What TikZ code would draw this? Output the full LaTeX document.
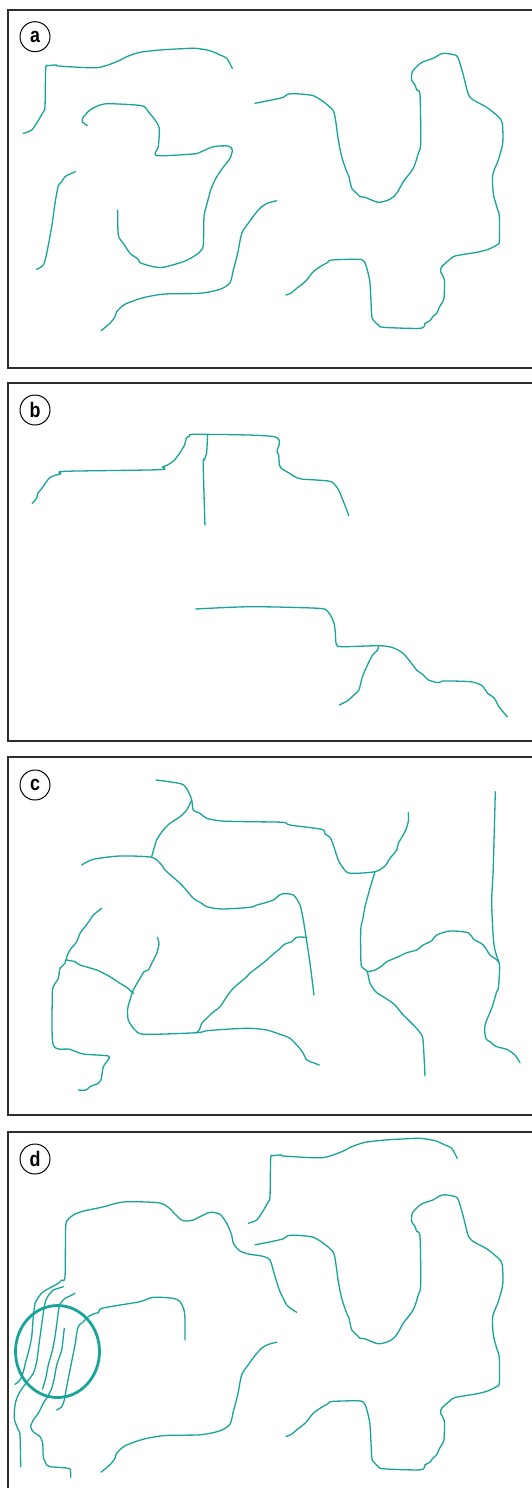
\documentclass[tikz,border=0pt]{standalone}
\usepackage{fontspec}
\newfontfamily\lblfont[FakeStretch=0.85]{Liberation Sans}
\definecolor{crackteal}{RGB}{24,164,152}
\definecolor{framegray}{RGB}{45,45,45}
\tikzset{
  crack/.style={draw=crackteal, line width=0.65pt, line cap=round, line join=round},
  panelframe/.style={draw=framegray, line width=1.1pt},
  tag/.style={circle, draw=black, line width=0.5pt, minimum size=15pt, inner sep=0pt,
              font=\lblfont\bfseries\fontsize{10.5}{12}\selectfont},
  zone/.style={draw=crackteal, line width=1.4pt}
}
\newcommand{\sm}{plot[smooth,tension=0.45] coordinates}
\newcommand{\curveAone}{\sm{(23.3,133.3) (31.7,130) (38,121) (43.3,111.7) (45,106.7) (45.7,68.3) (47.7,65.7) (56.7,65) (58.3,66) (96.7,67.7) (116.7,61.7) (126.7,56.7) (140,52.3) (160,50) (176.7,49) (195,48.3) (210,50.7) (220,55) (226.7,58.3) (232.3,68.3)}}
\newcommand{\curveAfour}{\sm{(101,330.7) (110,323.3) (115,316.7) (116.7,311.7) (125,304.3) (143.3,297.7) (165,294) (200,293.3) (220,289.3) (230,282.7) (233.3,270) (237.7,253.3) (241.7,233.3) (248.3,223.3) (255,214) (261.7,206.7) (268,203) (276.7,200.7)}}
\newcommand{\curveAfive}{\sm{(255,103.3) (271.7,100) (283.3,97.3) (288.3,94) (300,94) (313.3,95.7) (323.3,101.7) (333.3,110.7) (336,123.3) (338.3,140) (341.7,156.7) (346.7,171.7) (349,176.7) (351.7,188.3) (356.7,193.3) (360,196.7) (365,197.3) (378.3,202.3) (390,199.3) (396.7,193.3) (403.3,181.7) (413.3,168.3) (418.3,153.3) (420.7,143.3) (420,95) (416.7,90) (415,85) (411.7,80) (412.3,71.7) (418.3,65) (423.3,61.7) (433.3,58.3) (440,54.3) (445,53.3) (455,55) (458.3,58.3) (463.3,75) (468.3,94.3) (473.3,100) (486.7,107.3) (498.3,116.7) (502.3,123.3) (502.7,143.3) (498.3,160) (492.7,175) (493.3,193.3) (496.7,206.7) (499.3,216) (499.3,241.7) (496.7,245) (488.3,249.3) (476.7,252.3) (455,256) (450,259.3) (441.7,266.7) (440.7,271.7) (444.3,279.3) (444,298.3) (441.7,303.3) (439.3,307.3) (436.7,313.3) (432.7,316.7) (430,320.7) (425,323.3) (420.7,328.3) (383.3,327.3) (378.3,325) (373.3,320) (371.7,315) (370,283.3) (367.3,270) (364.3,261.7) (358.3,259.3) (331.7,260) (327.3,262.7) (321.7,265.7) (313.3,271.7) (306.7,280) (303.3,283.3) (296.7,288.3) (291.7,292.7) (286,295)}}
\begin{document}
\begin{tikzpicture}[x=0.5pt,y=-0.5pt]
\useasboundingbox (0,0) rectangle (531,1488);
\fill[white] (0,0) rectangle (531,1488);
% frames
\draw[panelframe] (8,10) rectangle (545,368);
\draw[panelframe] (8,383) rectangle (545,741);
\draw[panelframe] (8,757) rectangle (545,1115);
\draw[panelframe] (8,1132) rectangle (545,1510);
% labels
\node[tag] (la) at (35,36.7) {a};
\node[tag] (lb) at (35,410) {b};
\node[tag] (lc) at (35,785) {c};
\node[tag] (ld) at (35,1159) {d};
% ---------- panel a ----------
\draw[crack] \curveAone;
\draw[crack] \sm{(87.3,125.7) (82.3,121.7) (83.3,117.3) (90,110) (100,105) (110,103.7) (141.7,105.7) (148.3,111.7) (155,120) (159.3,128.3) (158.3,146.7) (156.7,150) (157.3,155.7) (193.3,154) (200,152.3) (213.3,146.7) (228.3,146) (232.3,150) (230,158.3) (225,165) (220,171.7) (215,180) (210.7,190) (206.7,205) (204,216.7) (203.3,245) (200,251.7) (193.3,256.7) (183.3,261.7) (163.3,267.3) (153.3,266.7) (140,262.7) (138.3,259.3) (130,253.3) (123.3,243.3) (118.3,235) (117.7,210)};
\draw[crack] \sm{(75.3,171.7) (70,174) (65,176.7) (61.7,181.7) (58.3,185.7) (55,203.3) (51.7,226.7) (46.7,253.3) (43.3,265) (36.7,269.3)};
\draw[crack] \curveAfour;
\draw[crack] \curveAfive;
% ---------- panel b ----------
\begin{scope}[xscale=1.016]
\draw[crack] \sm{(31.7,503.3) (36,498.3) (37.3,493.3) (41.7,487.7) (48.3,478.3) (53.3,475.7) (60,473.7) (64,471.3) (156.7,469.7) (160,467) (165,465) (171.7,460) (176.7,453.3) (181.7,445) (183.3,438.3) (186.7,436) (193.3,434.3) (270,436.7) (272.7,451.7) (274.3,455) (275,465) (276.7,468.3) (285,473.3) (290,476.7) (296.7,479) (306.7,479.7) (323.3,481) (328.3,483.3) (333.3,490) (336.7,498.3) (340,506.7) (343.3,515.7)};
\draw[crack] \sm{(204.3,435) (203.3,453.3) (201,460) (200,463.3) (201.7,525)};
\draw[crack] \sm{(192.7,609) (246.7,606.7) (313.3,608.3) (322.7,611.7) (328.3,621.7) (330,631.7) (331,644.3) (336.7,646.7) (373.3,645.7) (386.7,647.7) (396.7,653.3) (405,663.3) (410,670) (416.7,675) (421.7,680) (431.7,682.7) (436.7,681) (463.3,681.7) (473.3,685) (476.7,688.3) (480,693.3) (486.7,698.3) (490,705) (495,711.7) (499.3,716.7)};
\draw[crack] \sm{(372.7,645.7) (371.7,650) (366.7,655) (361.7,665) (356.7,676.7) (353.3,690) (348.3,695) (345,698.3) (341.7,701) (334,705)};
\end{scope}
% ---------- panel c ----------
\draw[crack] \sm{(156,780) (181.7,784) (188.3,791.7) (191.7,800) (193.3,810) (200,813.3) (206.7,818.3) (221.7,821) (250,821.7) (283.3,822.3) (290,825) (321.7,829.3) (325,834) (330,837.3) (333.3,845) (338.3,860) (343.3,868.3) (350,873.3) (375,871.7) (385,866) (390,858.3) (396.7,850) (398.3,843.3) (405,831.7) (408.3,821.7) (408.3,812.7)};
\draw[crack] \sm{(191.7,800) (186.7,810) (180,816.7) (170,823.3) (163.3,830) (156.7,840) (151.7,856.7)};
\draw[crack] \sm{(81.7,865) (93.3,859.3) (120,856) (151.7,857.3) (161.7,865) (165,870) (181.7,885) (193.3,898.3) (201.7,903.3) (206.7,906.7) (221.7,909) (250,907.3) (256.7,905) (263.3,903.3) (273.3,900) (281.7,894) (293.3,895) (300,905) (303.3,920) (306,936.7) (310,963.3) (314,995)};
\draw[crack] \sm{(306.7,937.3) (296.7,937.3) (291.7,941.7) (285,944) (278.3,950) (273.3,954) (266.7,960) (258.3,966.7) (250,973) (246.7,976.7) (233.3,988.3) (226.7,996.7) (220,1006.7) (211.7,1013.3) (208.3,1016.7) (201.7,1023.3) (199.3,1030) (196,1032.7)};
\draw[crack] \sm{(157.3,937.3) (159,943.3) (156.7,953.3) (151.7,963.3) (148.3,970) (144,971.7) (140,978.3) (133.3,990) (130,1000) (127.7,1008.3) (128.3,1020) (135,1030) (145,1034.3) (196.7,1032.7) (206.7,1030.7) (230,1029) (250,1028.3) (266.7,1030) (280,1034.3) (290,1038.3) (298.3,1046.7) (303.3,1053.3) (306.7,1060) (313.3,1062.7) (319.3,1065)};
\draw[crack] \sm{(101.7,908.3) (93.3,915) (90,920) (85,926.7) (80,933.3) (76.7,941.7) (70,950) (66.7,956.7) (65,963.3) (60,968.3) (58.3,978.3) (53.3,986.7) (52.3,996.7) (53.3,1045) (70,1049.3) (83.3,1054) (108.3,1056) (106.7,1061.7) (103.3,1066.7) (101,1080) (98.3,1083.3) (90,1086.7) (86,1090) (78.3,1090)};
\draw[crack] \sm{(66.7,960) (75,961.7) (80,965) (96.7,970) (110,976.7) (120,983.3) (126.7,987.3) (133.3,993.3)};
\draw[crack] \sm{(375,871.7) (370,888.3) (365,906.7) (363.3,916.7) (360.7,930) (361,963.3) (363.3,968.3) (367.3,971.7) (370,983.3) (376.7,992.7) (383.3,996.7) (395,1005) (401.7,1013.3) (415,1026.7) (421.7,1035) (423.3,1043.3) (425,1076)};
\draw[crack] \sm{(367.3,971.7) (375,970) (381.7,966) (386.7,961.7) (398.3,956.7) (406.7,952.7) (416.7,950) (423.3,945) (431.7,940.7) (436.7,935) (450,931) (468.3,932.7) (473.3,939) (483.3,945) (490,955) (499.3,963.3) (498.3,988.3) (496.7,991.7) (491.7,1008.3) (485,1025) (485.7,1038.3) (490,1041.7) (496.7,1046.7) (506.7,1049.3) (515,1055) (520,1062.7)};
\draw[crack] \sm{(495.3,791.7) (493.3,866.7) (491.7,903.3) (494,945) (499.3,963.3)};
% ---------- panel d ----------
\begin{scope}[shift={(225,1090)}]
\draw[crack] \curveAone;
\end{scope}
\begin{scope}[shift={(0,1141.5)}]
\draw[crack] \curveAfour;
\draw[crack] \curveAfive;
\end{scope}
\draw[crack] \sm{(296.7,1312.3) (291.7,1309) (286.7,1305) (283.3,1298.3) (280,1291.7) (275,1276.7) (270,1260) (261.7,1256) (250,1254.3) (240,1251) (233.3,1243.3) (231.7,1235) (226.7,1223.3) (220,1214.3) (210,1212.3) (200,1216.7) (193.3,1220) (186,1221) (181.7,1220) (178.3,1217.3) (175,1214) (168.3,1207.3) (158.3,1202.7) (126.7,1201.7) (113.3,1204) (106.7,1206) (96.7,1208.3) (85,1210.7) (75,1214) (68.3,1219.3) (65.7,1226.7) (65,1276.7) (61.7,1280) (58.3,1283.3) (53.3,1286) (43.3,1291.7) (40,1295) (36.7,1300) (35,1303.3) (33.3,1316.7) (31.7,1336.7) (29,1350) (25.7,1361.7) (23.3,1371.7) (20,1380) (15,1384.3)};
\draw[crack] \sm{(63.3,1286.7) (58.3,1288.3) (53.3,1290) (50,1293.3) (46.7,1298.3) (45,1303.3) (43.3,1313.3) (40,1336.7) (38.3,1350) (36.7,1361.7) (33.3,1373.3) (28.3,1380) (23.3,1386.7) (19,1393.3) (15.7,1401.7) (14.3,1411.7) (14.5,1420) (18.3,1430) (20,1435) (20.7,1466.7)};
\draw[crack] \sm{(75,1293.3) (70,1296) (65,1298.3) (61.7,1301.7) (59.3,1306) (57.3,1320) (55,1336.7) (52.5,1350) (48.3,1365) (45.7,1378.3) (42.5,1389)};
\draw[crack] \sm{(64.3,1328.3) (63.3,1336.7) (61.7,1350) (56.7,1365) (54.3,1378.3) (51.7,1388.3) (48,1396) (43.3,1403.3) (38.3,1413.3) (33.3,1420) (30.7,1426.7) (33.3,1431.7) (40,1436.7) (42.7,1443.3) (43.3,1456.7) (46.7,1465) (50,1466.7) (63.3,1467.7) (70,1469) (70.7,1477.3)};
\draw[crack] \sm{(185,1340) (185,1320) (184,1310) (180,1301.7) (173.3,1298.3) (153.3,1297.3) (140,1301.7) (120,1305) (106.7,1307.3) (100,1309) (98.3,1312.7) (95,1313.3) (88.3,1316.7) (83.3,1321.7) (79.3,1325) (77.3,1330) (75,1345) (73,1355) (71,1365) (68.3,1378.3) (66.7,1386.7) (64.3,1400) (61.7,1406.7) (56.7,1410)};
\draw[zone] (57.5,1351.5) ellipse [x radius=42, y radius=46];
\end{tikzpicture}
\end{document}
